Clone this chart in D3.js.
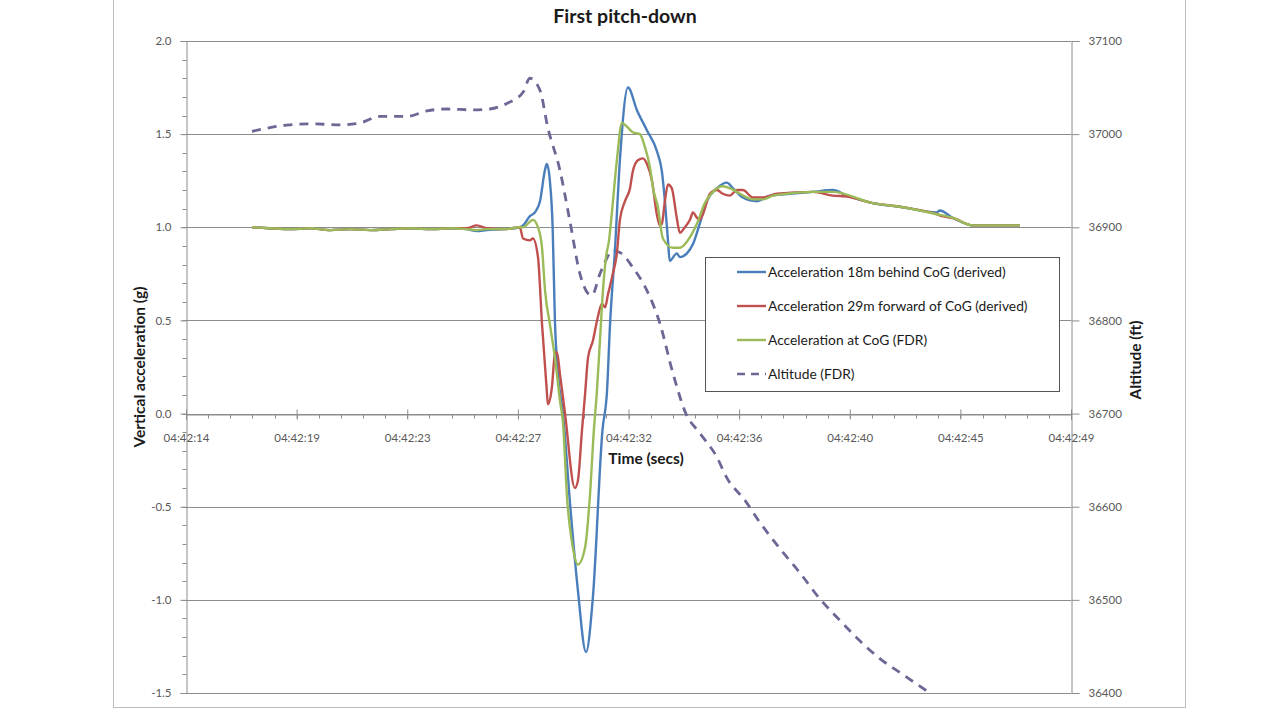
<!DOCTYPE html>
<html>
<head>
<meta charset="utf-8">
<script src="https://cdn.jsdelivr.net/npm/d3@7/dist/d3.min.js"></script>
<style>
  html, body { margin: 0; padding: 0; background: #fff; }
  svg { display: block; }
  text { font-family: Lato, "Open Sans", "Liberation Sans", sans-serif; }
</style>
</head>
<body>
<svg id="chart" width="1279" height="720"></svg>
<script>
// ---------------- DATA ----------------
const chartTitle = "First pitch-down";
const xTickLabels = ["04:42:14", "04:42:19", "04:42:23", "04:42:27", "04:42:32", "04:42:36", "04:42:40", "04:42:45", "04:42:49"];
const leftTicks = [-1.5, -1.0, -0.5, 0.0, 0.5, 1.0, 1.5, 2.0];
const rightTicks = [36400, 36500, 36600, 36700, 36800, 36900, 37000, 37100];
const seriesNames = [
  "Acceleration 18m behind CoG (derived)",
  "Acceleration 29m forward of CoG (derived)",
  "Acceleration at CoG (FDR)",
  "Altitude (FDR)"
];
// [seconds past 04:42, value]
const accelBehind = [
  [16.61,1.0],[17.3,0.995],[18.1,0.99],[18.9,0.995],[19.7,0.985],[20.5,0.99],[21.3,0.985],[22.1,0.99],[22.9,0.995],
  [23.7,0.99],[24.5,0.995],[25.1,0.99],[25.5,0.98],[25.9,0.985],[26.6,0.99],[27.2,1.0],
  [27.33,1.01],[27.6,1.06],[27.8,1.08],[28.0,1.14],[28.2,1.31],[28.27,1.34],[28.39,1.25],[28.5,1.0],
  [28.59,0.5],[28.71,0.21],[28.91,0.0],[29.18,-0.47],[29.5,-0.95],[29.82,-1.28],[30.09,-0.99],
  [30.47,-0.09],[30.65,0.12],[30.77,0.48],[30.96,0.87],[31.16,1.36],[31.48,1.75],[31.83,1.63],
  [32.23,1.52],[32.62,1.41],[32.82,1.30],[32.94,1.14],[33.06,0.93],[33.13,0.82],[33.41,0.86],
  [33.53,0.84],[33.81,0.86],[34.05,0.91],[34.32,1.02],[34.6,1.14],[35.0,1.21],[35.39,1.24],
  [35.63,1.21],[36.02,1.16],[36.58,1.14],[37.09,1.17],[37.88,1.18],[38.79,1.19],[39.58,1.20],
  [40.14,1.17],[41.16,1.13],[42.23,1.11],[43.7,1.08],[43.81,1.09],[44.33,1.05],[45.12,1.01],[46.98,1.01]
];
const accelForward = [
  [16.61,1.0],[17.3,0.995],[18.1,0.99],[18.9,0.995],[19.7,0.985],[20.5,0.99],[21.3,0.985],[22.1,0.99],[22.9,0.995],
  [23.7,0.99],[24.5,0.995],[25.1,0.995],[25.5,1.01],[25.9,0.995],[26.6,0.99],[27.2,1.0],
  [27.33,0.94],[27.6,0.93],[27.72,0.94],[27.92,0.84],[28.08,0.48],[28.27,0.12],[28.31,0.05],
  [28.47,0.14],[28.59,0.32],[28.67,0.33],[28.79,0.21],[28.99,0.0],[29.38,-0.40],[29.5,-0.36],
  [29.66,-0.09],[29.78,0.10],[29.9,0.30],[30.09,0.39],[30.29,0.52],[30.45,0.59],[30.57,0.57],
  [30.69,0.64],[30.88,0.75],[31.04,0.86],[31.16,1.04],[31.36,1.14],[31.56,1.21],[31.67,1.30],
  [31.87,1.36],[32.07,1.37],[32.23,1.34],[32.43,1.25],[32.62,1.07],[32.74,1.01],[32.82,1.02],
  [32.94,1.14],[33.06,1.23],[33.21,1.21],[33.41,1.05],[33.53,0.97],[33.73,1.0],[33.93,1.04],
  [34.05,1.08],[34.21,1.05],[34.32,1.04],[34.44,1.07],[34.72,1.18],[35.0,1.20],[35.23,1.18],
  [35.51,1.17],[35.79,1.20],[36.02,1.20],[36.42,1.16],[36.82,1.16],[37.37,1.18],[38.79,1.19],
  [39.58,1.17],[40.14,1.165],[41.16,1.13],[42.23,1.11],[43.7,1.07],[43.9,1.06],[44.33,1.05],[45.12,1.01],[46.98,1.01]
];
const accelCoG = [
  [16.61,1.0],[17.3,0.995],[18.1,0.99],[18.9,0.995],[19.7,0.985],[20.5,0.99],[21.3,0.985],[22.1,0.99],[22.9,0.995],
  [23.7,0.99],[24.5,0.995],[25.1,0.99],[25.5,0.985],[25.9,0.99],[26.6,0.99],[27.2,1.0],
  [27.33,1.0],[27.6,1.03],[27.72,1.04],[27.92,1.0],[28.08,0.89],[28.2,0.66],[28.39,0.48],
  [28.59,0.30],[28.79,0.07],[28.91,-0.05],[29.07,-0.45],[29.3,-0.72],[29.5,-0.81],[29.78,-0.72],
  [29.97,-0.45],[30.13,-0.09],[30.25,0.12],[30.37,0.39],[30.49,0.66],[30.61,0.84],[30.73,0.93],
  [30.85,1.09],[31.04,1.36],[31.24,1.56],[31.44,1.54],[31.67,1.51],[31.95,1.50],[32.15,1.43],
  [32.35,1.32],[32.47,1.21],[32.66,1.11],[32.86,0.94],[33.25,0.89],[33.53,0.89],[33.85,0.93],
  [34.21,1.02],[34.52,1.13],[34.84,1.19],[35.23,1.22],[35.51,1.21],[35.91,1.18],[36.42,1.15],
  [36.82,1.15],[37.21,1.17],[37.76,1.18],[38.79,1.19],[39.58,1.19],[41.16,1.13],[42.23,1.11],
  [43.7,1.07],[44.33,1.05],[45.12,1.01],[46.98,1.01]
];
const altitude = [
  [16.61,37003],[18.11,37010],[19.02,37011],[20.09,37010],[20.88,37012],[21.67,37019],[22.74,37019],
  [23.53,37025],[24.32,37027],[25.35,37026],[26.02,37027],[26.69,37033],[27.33,37045],[27.6,37060],
  [28.0,37047],[28.31,37007],[28.79,36961],[29.18,36907],[29.58,36850],[29.9,36829],[30.05,36827],
  [30.37,36850],[30.65,36867],[30.84,36875],[31.16,36873],[31.67,36857],[32.23,36832],[32.74,36797],
  [33.26,36743],[33.77,36700],[34.32,36679],[35.0,36653],[35.39,36631],[36.1,36607],[36.7,36583],
  [37.49,36555],[38.28,36529],[39.07,36501],[39.86,36478],[40.65,36456],[41.44,36437],[42.23,36422],[43.42,36400]
];

// ---------------- LAYOUT ----------------
const svg = d3.select("#chart");
const L = 186, R = 1071, T = 41, B = 693;
const colors = ["#4A7EBB", "#C0504D", "#9BBB59", "#6B6896"];
const gridColor = "#8c8c8c";
const labelColor = "#595959";
const fmtL = d => d.toFixed(1);   // plain hyphen minus, as in the original

const x = d3.scaleLinear().domain([14, 49]).range([L, R]);
const yL = d3.scaleLinear().domain([-1.5, 2.0]).range([B, T]);
const yR = d3.scaleLinear().domain([36400, 37100]).range([B, T]);

// outer frame
svg.append("rect").attr("x", 113.5).attr("y", -2).attr("width", 1072).attr("height", 709.5)
  .attr("fill", "none").attr("stroke", "#bdbdbd").attr("stroke-width", 1);

// title
svg.append("text").attr("x", 625).attr("y", 23).attr("text-anchor", "middle")
  .attr("font-size", 19.5).attr("font-weight", "bold").attr("fill", "#1a1a1a").text(chartTitle);

// gridlines
svg.append("g").selectAll("line").data(leftTicks).join("line")
  .attr("x1", L).attr("x2", R).attr("y1", d => Math.round(yL(d)) + 0.5).attr("y2", d => Math.round(yL(d)) + 0.5)
  .attr("stroke", gridColor).attr("stroke-width", 1);

// left axis
const gL = svg.append("g").attr("transform", `translate(${L + 0.5},0)`);
gL.call(d3.axisLeft(yL).tickValues(leftTicks).tickFormat(fmtL).tickSize(6).tickPadding(9));
gL.selectAll(".minor").data(d3.range(-15, 21).map(i => i / 10)).join("line")
  .attr("class", "minor").attr("x1", -4).attr("x2", 0)
  .attr("y1", d => Math.round(yL(d)) + 0.5).attr("y2", d => Math.round(yL(d)) + 0.5)
  .attr("stroke", gridColor);

// right axis
const gR = svg.append("g").attr("transform", `translate(${R + 0.5},0)`);
gR.call(d3.axisRight(yR).tickValues(rightTicks).tickFormat(d => String(d)).tickSize(8).tickPadding(9));

[gL, gR].forEach(g => {
  g.select(".domain").attr("stroke", gridColor);
  g.selectAll(".tick line").attr("stroke", gridColor);
  g.selectAll(".tick text").attr("fill", labelColor).attr("font-size", 11.5)
    .attr("font-family", "Lato, 'Open Sans', sans-serif");
});

// x axis at y = 0
const x0 = Math.round(yL(0)) + 0.5;
const xMajor = d3.range(xTickLabels.length).map(i => 14 + i * 35 / (xTickLabels.length - 1));
const gX = svg.append("g").attr("transform", `translate(0,${x0})`);
gX.call(d3.axisBottom(x).tickValues(xMajor).tickFormat((d, i) => xTickLabels[i]).tickSize(5).tickPadding(14));
gX.select(".domain").attr("stroke", gridColor);
gX.selectAll(".tick line").attr("stroke", gridColor).attr("y1", -5);
gX.selectAll(".tick text").attr("fill", labelColor).attr("font-size", 11.5)
  .attr("font-family", "Lato, 'Open Sans', sans-serif");
gX.selectAll(".minor").data(d3.range(0, 41).map(i => 14 + i * 35 / 40)).join("line")
  .attr("class", "minor").attr("x1", d => Math.round(x(d)) + 0.5).attr("x2", d => Math.round(x(d)) + 0.5)
  .attr("y1", 0).attr("y2", 4).attr("stroke", gridColor);

// axis titles
svg.append("text").attr("transform", "translate(145,367) rotate(-90)").attr("text-anchor", "middle")
  .attr("font-size", 15.5).attr("font-weight", "bold").attr("fill", "#1a1a1a").text("Vertical  acceleration (g)");
svg.append("text").attr("transform", "translate(1141,360) rotate(-90)").attr("text-anchor", "middle")
  .attr("font-size", 15.5).attr("font-weight", "bold").attr("fill", "#1a1a1a").text("Altitude (ft)");
svg.append("text").attr("x", 646).attr("y", 464).attr("text-anchor", "middle")
  .attr("font-size", 15.5).attr("font-weight", "bold").attr("fill", "#1a1a1a").text("Time (secs)");

// clip
svg.append("clipPath").attr("id", "plotclip").append("rect")
  .attr("x", L).attr("y", T - 5).attr("width", R - L).attr("height", B - T + 5);

const plot = svg.append("g").attr("clip-path", "url(#plotclip)");
const lineL = d3.line().x(d => x(d[0])).y(d => yL(d[1])).curve(d3.curveMonotoneX);
const lineR = d3.line().x(d => x(d[0])).y(d => yR(d[1])).curve(d3.curveMonotoneX);

plot.append("path").datum(altitude).attr("d", lineR).attr("fill", "none")
  .attr("stroke", colors[3]).attr("stroke-width", 2.8).attr("stroke-dasharray", "9,7");
[accelBehind, accelForward, accelCoG].forEach((s, i) => {
  plot.append("path").datum(s).attr("d", lineL).attr("fill", "none")
    .attr("stroke", colors[i]).attr("stroke-width", 2.4).attr("stroke-linejoin", "round");
});

// legend
const lg = svg.append("g");
lg.append("rect").attr("x", 705.5).attr("y", 257.5).attr("width", 354).attr("height", 134)
  .attr("fill", "#fff").attr("stroke", "#555").attr("stroke-width", 1);
seriesNames.forEach((n, i) => {
  const yy = 272 + i * 34;
  lg.append("line").attr("x1", 737).attr("x2", 766).attr("y1", yy).attr("y2", yy)
    .attr("stroke", colors[i]).attr("stroke-width", 2.4)
    .attr("stroke-dasharray", i === 3 ? "8,6" : null);
  lg.append("text").attr("x", 768).attr("y", yy + 5).attr("font-size", 13.8)
    .attr("fill", "#1a1a1a").text(n);
});
</script>
</body>
</html>
